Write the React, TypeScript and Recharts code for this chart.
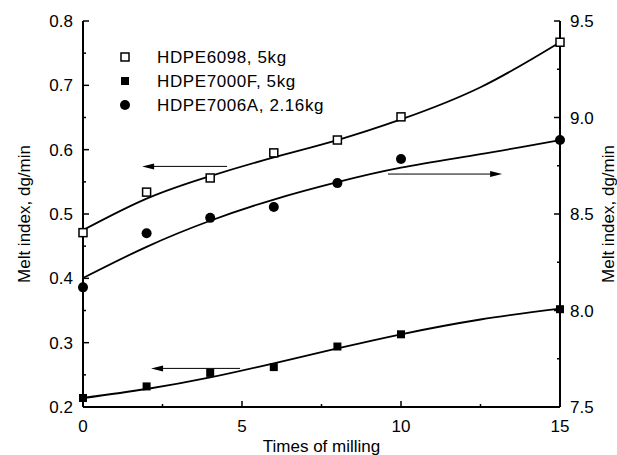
import React from 'react';
import { ComposedChart, Line, Scatter, XAxis, YAxis, ReferenceLine, Legend } from 'recharts';

// measured points
const milling = [0, 2, 4, 6, 8, 10, 15];
const hdpe6098 = [0.471, 0.534, 0.556, 0.595, 0.615, 0.651, 0.767];
const hdpe7000F = [0.214, 0.232, 0.253, 0.262, 0.294, 0.313, 0.352];
const hdpe7006A = [8.12, 8.4, 8.48, 8.536, 8.66, 8.785, 8.883];

// fitted curves
const fitX = [0, 2, 4, 6, 8, 10, 12.5, 15];
const fit6098 = [0.475, 0.524, 0.559, 0.588, 0.615, 0.647, 0.697, 0.767];
const fit7000F = [0.214, 0.228, 0.246, 0.268, 0.291, 0.313, 0.336, 0.353];
const fit7006A = [8.168, 8.33, 8.465, 8.575, 8.665, 8.74, 8.81, 8.883];

const seriesNames = ['HDPE6098, 5kg', 'HDPE7000F, 5kg', 'HDPE7006A, 2.16kg'];

const xTicks = [0, 2.5, 5, 7.5, 10, 12.5, 15];
const xMajor = [0, 5, 10, 15];
const leftTicks = [0.2, 0.25, 0.3, 0.35, 0.4, 0.45, 0.5, 0.55, 0.6, 0.65, 0.7, 0.75, 0.8];
const leftMajor = [0.2, 0.3, 0.4, 0.5, 0.6, 0.7, 0.8];
const rightTicks = [7.5, 7.75, 8, 8.25, 8.5, 8.75, 9, 9.25, 9.5];
const rightMajor = [7.5, 8, 8.5, 9, 9.5];

// arrows: [x from, x to, y, axis]
const arrows: [number, number, number, string][] = [
  [4.53, 1.86, 0.574, 'left'],
  [4.94, 2.14, 0.26, 'left'],
  [9.59, 13.18, 8.707, 'right'],
];

const pts = (xs: number[], ys: number[]) => xs.map((x, i) => ({ x, y: ys[i] }));

const FONT = '"Liberation Sans", Arial, sans-serif';
const FS = 17;

const BottomTick = (p: any) => {
  const major = xMajor.includes(p.payload.value);
  return (
    <g>
      <line x1={p.x} x2={p.x} y1={p.y} y2={p.y - (major ? 6 : 3)} stroke="#000" strokeWidth={1.5} />
      {major && (
        <text x={p.x} y={p.y + 25} textAnchor="middle" fontSize={FS} fontFamily={FONT} fill="#000">
          {p.payload.value}
        </text>
      )}
    </g>
  );
};

const TopTick = (p: any) => {
  const major = xMajor.includes(p.payload.value);
  return <line x1={p.x} x2={p.x} y1={p.y} y2={p.y + (major ? 6 : 3)} stroke="#000" strokeWidth={1.5} />;
};

const LeftTick = (p: any) => {
  const major = leftMajor.includes(p.payload.value);
  return (
    <g>
      <line x1={p.x} x2={p.x + (major ? 6 : 3)} y1={p.y} y2={p.y} stroke="#000" strokeWidth={1.5} />
      {major && (
        <text x={p.x - 10} y={p.y} dy="0.36em" textAnchor="end" fontSize={FS} fontFamily={FONT} fill="#000">
          {p.payload.value.toFixed(1)}
        </text>
      )}
    </g>
  );
};

const RightTick = (p: any) => {
  const major = rightMajor.includes(p.payload.value);
  return (
    <g>
      <line x1={p.x} x2={p.x - (major ? 6 : 3)} y1={p.y} y2={p.y} stroke="#000" strokeWidth={1.5} />
      {major && (
        <text x={p.x + 10} y={p.y} dy="0.36em" textAnchor="start" fontSize={FS} fontFamily={FONT} fill="#000">
          {p.payload.value.toFixed(1)}
        </text>
      )}
    </g>
  );
};

const OpenSquare = (p: any) => (
  <rect x={p.cx - 4} y={p.cy - 4} width={8} height={8} fill="#fff" stroke="#000" strokeWidth={1.5} />
);
const FilledSquare = (p: any) => <rect x={p.cx - 4} y={p.cy - 4} width={8} height={8} fill="#000" />;
const FilledCircle = (p: any) => <circle cx={p.cx} cy={p.cy} r={5} fill="#000" />;

const ArrowShape = (p: any) => {
  const { x1, y1, x2, y2 } = p;
  const dir = x2 > x1 ? 1 : -1;
  return (
    <g>
      <line x1={x1} y1={y1} x2={x2 - dir * 10} y2={y2} stroke="#000" strokeWidth={1} />
      <path d={`M${x2},${y2} L${x2 - dir * 12},${y2 - 3} L${x2 - dir * 12},${y2 + 3} Z`} fill="#000" />
    </g>
  );
};

const LegendBox = () => {
  const symbols = [OpenSquare, FilledSquare, FilledCircle];
  return (
    <svg width={260} height={80} style={{ display: 'block' }}>
      {seriesNames.map((name, i) => {
        const Sym = symbols[i];
        const cy = 12 + i * 24;
        return (
          <g key={name}>
            <Sym cx={7} cy={cy} />
            <text x={39} y={cy} dy="0.36em" fontSize={FS} fontFamily={FONT} letterSpacing={0.6} fill="#000">
              {name}
            </text>
          </g>
        );
      })}
    </svg>
  );
};

const YLabel = (side: 'left' | 'right') => (props: any) => {
  const vb = props.viewBox;
  const x = side === 'left' ? vb.x + 24 : vb.x + vb.width - 9;
  const y = vb.y + vb.height / 2;
  return (
    <text x={x} y={y} transform={`rotate(-90, ${x}, ${y})`} textAnchor="middle" dominantBaseline="central"
      fontSize={FS} fontFamily={FONT} fill="#000">
      Melt index, dg/min
    </text>
  );
};

const XLabel = (props: any) => {
  const vb = props.viewBox;
  return (
    <text x={vb.x + vb.width / 2} y={vb.y + 45} textAnchor="middle" fontSize={FS} fontFamily={FONT} fill="#000">
      Times of milling
    </text>
  );
};

export default function App() {
  return (
    <div style={{ position: 'absolute', left: 0, top: 0, background: '#fff' }}>
      <ComposedChart width={617} height={455} margin={{ top: 21, right: 0, bottom: 0, left: 0 }}>
        <XAxis xAxisId="x" dataKey="x" type="number" domain={[0, 15]} ticks={xTicks} interval={0}
          tickSize={0} tickMargin={0} tickLine={false} tick={<BottomTick />} height={48}
          axisLine={{ stroke: '#000', strokeWidth: 2 }} label={<XLabel />} />
        <XAxis xAxisId="top" orientation="top" dataKey="x" type="number" domain={[0, 15]} ticks={xTicks} interval={0}
          tickSize={0} tickMargin={0} tickLine={false} tick={<TopTick />} height={0}
          axisLine={{ stroke: '#000', strokeWidth: 2 }} />
        <YAxis yAxisId="left" type="number" domain={[0.2, 0.8]} ticks={leftTicks} interval={0}
          tickSize={0} tickMargin={0} tickLine={false} tick={<LeftTick />} width={83}
          axisLine={{ stroke: '#000', strokeWidth: 2 }} label={YLabel('left')} />
        <YAxis yAxisId="right" orientation="right" type="number" domain={[7.5, 9.5]} ticks={rightTicks} interval={0}
          tickSize={0} tickMargin={0} tickLine={false} tick={<RightTick />} width={57}
          axisLine={{ stroke: '#000', strokeWidth: 2 }} label={YLabel('right')} />
        <Legend layout="vertical" align="center" verticalAlign="middle" content={() => <LegendBox />}
          wrapperStyle={{ position: 'absolute', left: 118, top: 45, width: 260 }} />

        <Line xAxisId="x" yAxisId="left" data={pts(fitX, fit6098)} dataKey="y" type="natural" stroke="#000"
          strokeWidth={1.8} dot={false} legendType="none" isAnimationActive={false} />
        <Line xAxisId="x" yAxisId="left" data={pts(fitX, fit7000F)} dataKey="y" type="natural" stroke="#000"
          strokeWidth={1.8} dot={false} legendType="none" isAnimationActive={false} />
        <Line xAxisId="x" yAxisId="right" data={pts(fitX, fit7006A)} dataKey="y" type="natural" stroke="#000"
          strokeWidth={1.8} dot={false} legendType="none" isAnimationActive={false} />

        {arrows.map(([xa, xb, y, axis], i) => (
          <ReferenceLine key={i} xAxisId="x" yAxisId={axis} segment={[{ x: xa, y }, { x: xb, y }]}
            shape={ArrowShape} />
        ))}

        <Scatter xAxisId="x" yAxisId="left" name={seriesNames[0]} data={pts(milling, hdpe6098)} dataKey="y"
          shape={OpenSquare} isAnimationActive={false} />
        <Scatter xAxisId="x" yAxisId="left" name={seriesNames[1]} data={pts(milling, hdpe7000F)} dataKey="y"
          shape={FilledSquare} isAnimationActive={false} />
        <Scatter xAxisId="x" yAxisId="right" name={seriesNames[2]} data={pts(milling, hdpe7006A)} dataKey="y"
          shape={FilledCircle} isAnimationActive={false} />
      </ComposedChart>
    </div>
  );
}
